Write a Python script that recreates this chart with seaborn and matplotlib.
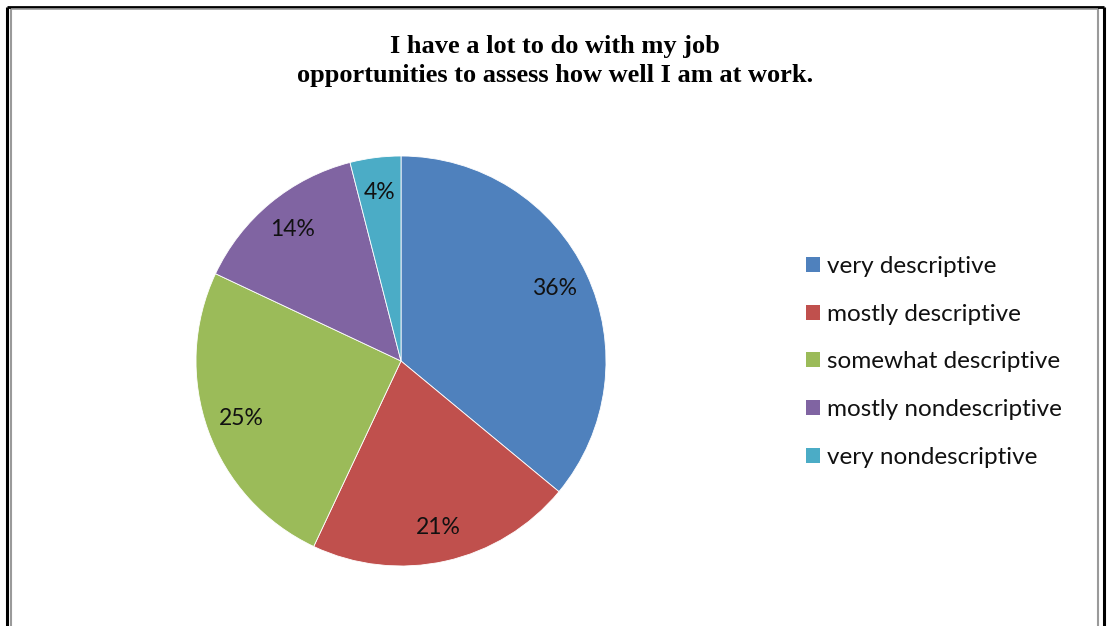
import numpy as np
import matplotlib
matplotlib.use("Agg")
import matplotlib.pyplot as plt
import seaborn as sns
from matplotlib.patches import Patch
from matplotlib.lines import Line2D

# data
labels = ["very descriptive", "mostly descriptive", "somewhat descriptive",
          "mostly nondescriptive", "very nondescriptive"]
shares = [36, 21, 25, 14, 4]
colors = ["#4F81BD", "#C0504D", "#9BBB59", "#8064A2", "#4BACC6"]
title = "I have a lot to do with my job\nopportunities to assess how well I am at work."

sns.set_style("white")
plt.rcParams['font.family'] = ['Lato', 'DejaVu Sans']
palette = sns.color_palette(colors)

W, H = 1109, 626
fig = plt.figure(figsize=(W / 100, H / 100), dpi=100)

# pie axes: centre ~ (401, 361) px, radius ~205 px
cx, cy, r = 401, 361, 205
ax = fig.add_axes([(cx - r) / W, (H - cy - r) / H, 2 * r / W, 2 * r / H])
wedges, texts, autotexts = ax.pie(shares, colors=palette, startangle=90, counterclock=False,
                                  autopct='%1.0f%%', pctdistance=0.83,
                                  wedgeprops=dict(edgecolor='white', linewidth=0.6),
                                  textprops=dict(fontsize=16.5, color="#111111"))
ax.set_xlim(-1, 1)
ax.set_ylim(-1, 1)
ax.set_aspect('equal')
ax.axis('off')

fig.text(555 / W, 1 - 61 / H, title, ha='center', va='center', fontsize=19,
         fontweight='bold', color='black', family=['Liberation Serif', 'DejaVu Serif'],
         linespacing=1.32)

handles = [Patch(facecolor=c, edgecolor='none') for c in palette]
fig.legend(handles, labels, loc='center left', bbox_to_anchor=(806 / W, 1 - 362 / H),
           frameon=False, fontsize=17.5, handlelength=0.58, handleheight=0.58,
           handletextpad=0.3, labelspacing=1.1, borderpad=0, borderaxespad=0,
           labelcolor="#111111")

# double frame around the chart
def px_line(x0, y0, x1, y1, color, lw):
    fig.add_artist(Line2D([x0 / W, x1 / W], [1 - y0 / H, 1 - y1 / H], color=color,
                          lw=lw, transform=fig.transFigure, solid_capstyle='butt'))

px_line(7, 7, 1103.5, 7, 'black', 2)
px_line(7, 7, 7, 630, 'black', 2.2)
px_line(1103.5, 7, 1103.5, 630, 'black', 2.2)
px_line(10.5, 8.5, 1097.5, 8.5, '#9a9a9a', 1.2)
px_line(10.5, 8.5, 10.5, 630, '#9a9a9a', 1.5)
px_line(1097.5, 8.5, 1097.5, 630, '#9a9a9a', 1.5)

fig.savefig("out.png", dpi=100, facecolor='white')
